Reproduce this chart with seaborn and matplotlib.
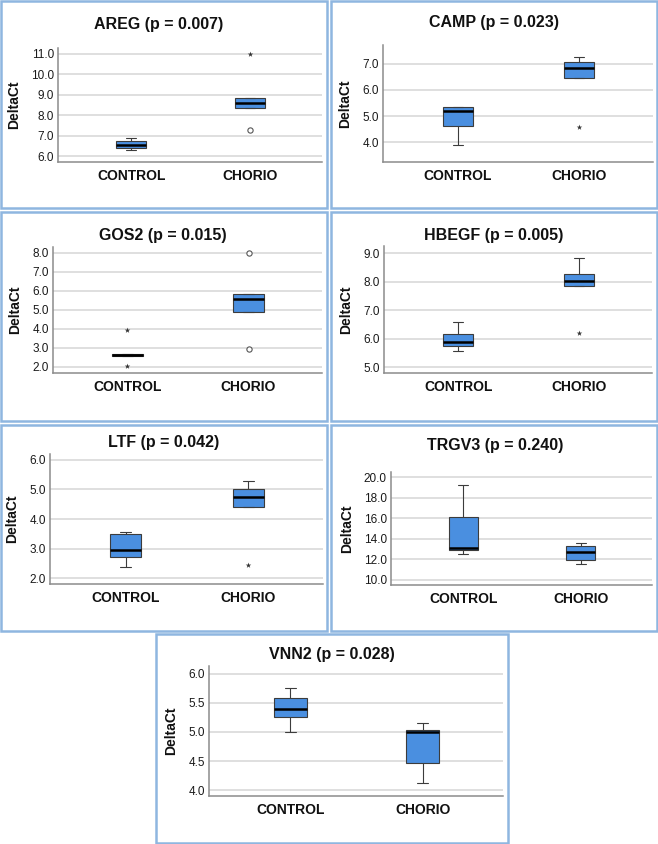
import numpy as np
import pandas as pd
import matplotlib
matplotlib.use("Agg")
import matplotlib.pyplot as plt
from matplotlib.patches import Rectangle
import seaborn as sns

# data (DeltaCt per sample)
groups = ["CONTROL", "CHORIO"]
genes = ["AREG", "CAMP", "GOS2", "HBEGF", "LTF", "TRGV3", "VNN2"]
p_values = ["0.007", "0.023", "0.015", "0.005", "0.042", "0.240", "0.028"]

areg_control = [6.32, 6.38, 6.42, 6.48, 6.54, 6.63, 6.72, 6.80, 6.87]
areg_chorio = [7.26, 8.35, 8.35, 8.48, 8.61, 8.74, 8.84, 8.84, 11.00]
camp_control = [3.90, 4.62, 5.20, 5.35, 5.35]
camp_chorio = [4.58, 6.44, 6.44, 6.62, 6.85, 6.96, 7.05, 7.15, 7.27]
gos2_control = [2.05, 2.54, 2.54, 2.58, 2.62, 2.66, 2.69, 2.69, 3.93]
gos2_chorio = [2.93, 4.91, 4.91, 5.30, 5.55, 5.70, 5.85, 5.85, 8.00]
hbegf_control = [5.57, 5.75, 5.89, 6.16, 6.57]
hbegf_chorio = [6.21, 7.84, 7.84, 7.93, 8.01, 8.12, 8.25, 8.50, 8.82]
ltf_control = [2.38, 2.71, 2.94, 3.49, 3.55]
ltf_chorio = [2.43, 4.41, 4.41, 4.60, 4.76, 4.90, 5.03, 5.15, 5.29]
trgv3_control = [12.54, 12.86, 13.12, 16.16, 19.20]
trgv3_chorio = [11.52, 11.97, 12.76, 13.32, 13.61]
vnn2_control = [5.00, 5.25, 5.39, 5.58, 5.75]
vnn2_chorio = [4.12, 4.46, 4.99, 5.03, 5.16]

values = {
    "AREG": (areg_control, areg_chorio),
    "CAMP": (camp_control, camp_chorio),
    "GOS2": (gos2_control, gos2_chorio),
    "HBEGF": (hbegf_control, hbegf_chorio),
    "LTF": (ltf_control, ltf_chorio),
    "TRGV3": (trgv3_control, trgv3_chorio),
    "VNN2": (vnn2_control, vnn2_chorio),
}

y_limits = [(5.72, 11.28), (3.25, 7.71), (1.67, 8.31), (4.79, 9.25),
            (1.8, 6.2), (9.5, 20.5), (3.9, 6.13)]
y_ticks = [np.arange(6, 11.1, 1), np.arange(4, 7.1, 1), np.arange(2, 8.1, 1),
           np.arange(5, 9.1, 1), np.arange(2, 6.1, 1), np.arange(10, 20.1, 2),
           np.arange(4, 6.01, 0.5)]

# layout in pixels: panel frame, axes (l, t, r, b), title centre
W, H = 658, 844
frames = [(1, 1, 327, 208), (331, 1, 657, 208), (1, 212, 327, 421),
          (331, 212, 657, 421), (1, 425, 327, 631), (331, 425, 657, 631),
          (156, 634, 508, 843)]
axes_px = [(58, 48, 322, 162), (383, 45, 653, 162), (53, 247, 322, 373),
           (384, 246, 652, 373), (50, 454, 323, 584), (391, 472, 652, 585),
           (209, 666, 503, 796)]
titles_px = [(159, 24), (494, 22), (163, 235), (494, 235), (164, 443),
             (495, 446), (332, 654)]

BOX_BLUE = "#4a8fe0"
FRAME_BLUE = "#8fb6e0"

sns.set_theme(style="white")
plt.rcParams["font.family"] = ["Liberation Sans", "DejaVu Sans"]

fig = plt.figure(figsize=(W / 100, H / 100), dpi=100)

for (x0, y0, x1, y1) in frames:
    fig.patches.append(Rectangle((x0 / W, 1 - y1 / H), (x1 - x0) / W, (y1 - y0) / H,
                                 transform=fig.transFigure, fill=False,
                                 edgecolor=FRAME_BLUE, linewidth=1.8))

for i, gene in enumerate(genes):
    l, t, r, b = axes_px[i]
    ax = fig.add_axes([l / W, 1 - b / H, (r - l) / W, (b - t) / H])

    ctrl, chor = values[gene]
    df = pd.DataFrame({"group": ["CONTROL"] * len(ctrl) + ["CHORIO"] * len(chor),
                       "DeltaCt": ctrl + chor})

    sns.boxplot(data=df, x="group", y="DeltaCt", order=groups, width=0.25,
                color=BOX_BLUE, saturation=1, linecolor="#3c3c3c", linewidth=0.8,
                showfliers=False, whis=1.5, capwidths=0.085,
                medianprops=dict(color="black", linewidth=1.8), ax=ax)

    # SPSS style outliers: circle beyond 1.5 IQR, star beyond 3 IQR
    rows = []
    for g, vals in zip(groups, (ctrl, chor)):
        q1, q3 = np.percentile(vals, [25, 75])
        iqr = q3 - q1
        for v in vals:
            d = max(q1 - v, v - q3)
            if d > 3 * iqr:
                rows.append((g, v, "extreme"))
            elif d > 1.5 * iqr:
                rows.append((g, v, "outlier"))
    out = pd.DataFrame(rows, columns=["group", "DeltaCt", "kind"])

    circ = out[out["kind"] == "outlier"]
    if len(circ):
        sns.stripplot(data=circ, x="group", y="DeltaCt", order=groups, jitter=False,
                      marker="o", size=3.8, color="white", edgecolor="#555555",
                      linewidth=0.8, ax=ax)
    star = out[out["kind"] == "extreme"]
    if len(star):
        sns.stripplot(data=star, x="group", y="DeltaCt", order=groups, jitter=False,
                      marker="*", size=4.2, color="#333333", ax=ax)

    ax.set_xlim(-0.615, 1.607)
    ax.set_ylim(*y_limits[i])
    ax.set_yticks(y_ticks[i])
    ax.set_yticklabels(["{:.1f}".format(v) for v in y_ticks[i]])
    ax.yaxis.grid(True, color="#d6d6d6", linewidth=1.1)
    ax.set_axisbelow(True)

    for s in ["top", "right"]:
        ax.spines[s].set_visible(False)
    for s in ["left", "bottom"]:
        ax.spines[s].set_color("#8c8c8c")
        ax.spines[s].set_linewidth(1.1)

    ax.tick_params(axis="y", length=0, pad=3, labelsize=8.5, labelcolor="#1a1a1a")
    ax.tick_params(axis="x", length=0, pad=5, labelsize=10, labelcolor="#111111")
    for lab in ax.get_xticklabels():
        lab.set_fontweight("bold")

    ax.set_xlabel("")
    ax.set_ylabel("DeltaCt", fontsize=10, fontweight="bold", color="#111111", labelpad=7)

    tx, ty = titles_px[i]
    fig.text(tx / W, 1 - ty / H, "{} (p = {})".format(gene, p_values[i]),
             ha="center", va="center", fontsize=11.5, fontweight="bold", color="#111111")

fig.savefig("out.png", dpi=100)
